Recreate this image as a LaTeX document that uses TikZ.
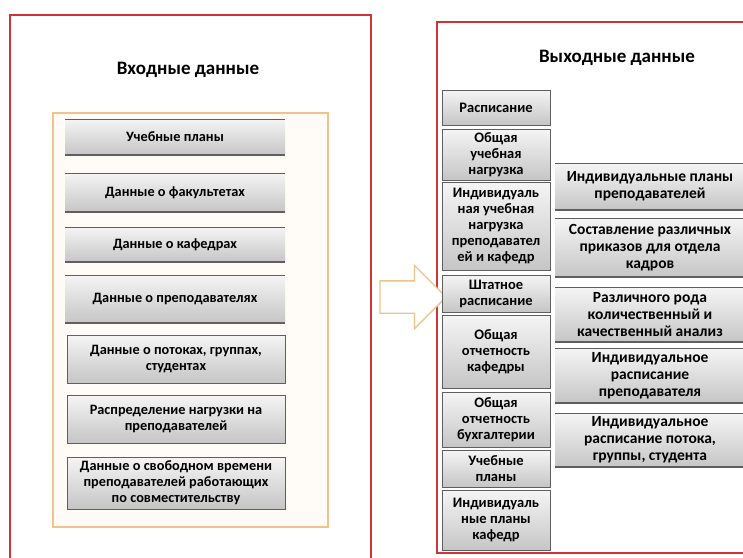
\documentclass[tikz,border=0pt]{standalone}
\usepackage{fontspec}
\setmainfont{Carlito}
\usetikzlibrary{shapes.arrows}
\definecolor{panelred}{RGB}{208,52,58}
\definecolor{paneltan}{RGB}{238,196,140}
\definecolor{boxline}{RGB}{95,95,95}
\begin{document}
\begin{tikzpicture}[x=1pt,y=-1pt,
    every node/.style={font=\bfseries\fontsize{14.3}{16}\selectfont, align=center, inner sep=0pt},
    title/.style={font=\bfseries\fontsize{19}{21}\selectfont},
    greybox/.style={top color=gray!8, bottom color=gray!45},
    bevel/.style={greybox, path picture={
        \draw[boxline, line width=2pt] (path picture bounding box.north west) -- (path picture bounding box.north east);
        \draw[boxline, line width=2pt] (path picture bounding box.south west) -- (path picture bounding box.south east);}},
    framed/.style={greybox, draw=boxline, line width=1pt},
    narrow/.style={framed, minimum width=108pt, font=\bfseries\fontsize{14.5}{16}\selectfont},
    wide/.style={bevel, minimum width=190pt, font=\bfseries\fontsize{15.5}{17}\selectfont}]
  \useasboundingbox[fill=white] (0,0) rectangle (743,557);
  % panels
  \draw[panelred, line width=1.5pt] (10,575) -- (10,15) -- (371,15) -- (371,575);
  \draw[panelred, line width=1.5pt] (760,22) -- (437,22) -- (437,553) -- (760,553);
  \draw[paneltan, line width=1.3pt, fill=orange!3] (53,113) rectangle (328,527);
  \node[title] (intitle) at (188,70) {Входные данные};
  \node[title] (outtitle) at (617,58) {Выходные данные};
  % input data
  \node[bevel, minimum width=220pt, minimum height=36pt] (plans) at (175,137) {Учебные планы};
  \node[bevel, minimum width=220pt, minimum height=39pt] (faculty) at (175,192.5) {Данные о факультетах};
  \node[bevel, minimum width=220pt, minimum height=35pt] (chairs) at (175,244.5) {Данные о кафедрах};
  \node[bevel, minimum width=220pt, minimum height=48pt] (teachers) at (175,299) {Данные о преподавателях};
  \node[framed, minimum width=218pt, minimum height=48pt] (streams) at (176,359) {Данные о потоках, группах,\\студентах};
  \node[framed, minimum width=218pt, minimum height=48pt] (load) at (176,419) {Распределение нагрузки на\\преподавателей};
  \node[framed, minimum width=218pt, minimum height=52pt] (freetime) at (176,483) {Данные о свободном времени\\преподавателей работающих\\по совместительству};
  % arrow between panels
  \node[single arrow, draw=paneltan, line width=1.3pt, fill=white, inner xsep=0pt, inner ysep=15.5pt,
        minimum height=66pt, single arrow head extend=15.5pt] (flow) at (405,297) {};
  % output data, narrow column
  \node[narrow, minimum height=35pt] (timetable) at (496,107.5) {Расписание};
  \node[narrow, minimum height=51pt] (totalload) at (496,154.5) {Общая\\учебная\\нагрузка};
  \node[narrow, minimum height=88pt] (indload) at (496,226) {Индивидуаль\\ная учебная\\нагрузка\\преподавател\\ей и кафедр};
  \node[narrow, minimum height=37pt] (staff) at (496,293.5) {Штатное\\расписание};
  \node[narrow, minimum height=73pt] (chairrep) at (496,351.5) {Общая\\отчетность\\кафедры};
  \node[narrow, minimum height=55pt] (accrep) at (496,419.5) {Общая\\отчетность\\бухгалтерии};
  \node[narrow, minimum height=37pt] (curric) at (496,468.5) {Учебные\\планы};
  \node[narrow, minimum height=60pt] (chairplans) at (496,520) {Индивидуаль\\ные планы\\кафедр};
  % output data, wide column
  \node[wide, minimum height=47pt] (teachplans) at (650,186.5) {Индивидуальные планы\\преподавателей};
  \node[wide, minimum height=59pt] (orders) at (650,247.5) {Составление различных\\приказов для отдела\\кадров};
  \node[wide, minimum height=55pt] (analysis) at (650,314.5) {Различного рода\\количественный и\\качественный анализ};
  \node[wide, minimum height=55pt] (teachtime) at (650,375.5) {Индивидуальное\\расписание\\преподавателя};
  \node[wide, minimum height=54pt] (grouptime) at (650,440) {Индивидуальное\\расписание потока,\\группы, студента};
\end{tikzpicture}
\end{document}
